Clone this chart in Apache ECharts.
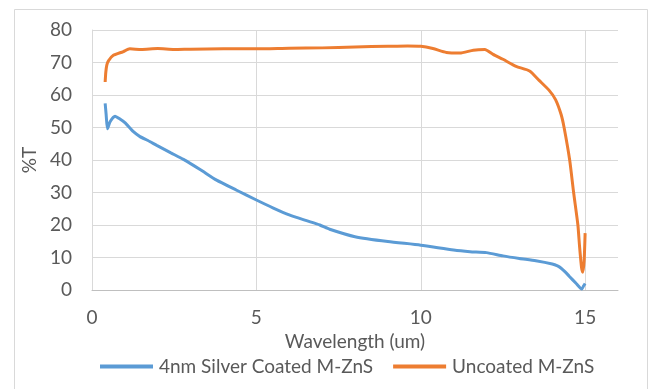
<!DOCTYPE html>
<html>
<head>
<meta charset="utf-8">
<script src="https://cdn.jsdelivr.net/npm/echarts@6/dist/echarts.min.js"></script>
<style>html,body{margin:0;padding:0;background:#fff;}#c{width:653px;height:389px;}</style>
</head>
<body>
<div id="c"></div>
<script>
var seriesNames = ['4nm Silver Coated M-ZnS', 'Uncoated M-ZnS'];
var xTicks = [0, 5, 10, 15];
var blueX = [0.40, 0.43, 0.47, 0.55, 0.70, 0.85, 1.00, 1.26, 1.46, 1.70, 1.97, 2.40, 2.78, 3.30, 3.79, 4.40, 5.00, 5.50, 6.00, 6.50, 6.93, 7.23, 8.00, 9.00, 10.00, 11.00, 11.50, 12.00, 12.50, 13.00, 13.50, 14.00, 14.16, 14.27, 14.40, 14.53, 14.73, 14.90, 14.95, 15.00];
var blueY = [57.4, 54.0, 49.6, 51.8, 53.5, 52.6, 51.5, 48.7, 47.2, 46.0, 44.5, 42.2, 40.2, 37.0, 33.8, 30.7, 27.7, 25.3, 23.1, 21.4, 20.0, 18.7, 16.4, 14.9, 13.8, 12.3, 11.8, 11.5, 10.5, 9.7, 9.0, 8.0, 7.4, 6.7, 5.5, 4.1, 2.0, 0.3, 1.2, 2.0];
var orangeX = [0.40, 0.42, 0.45, 0.50, 0.65, 0.94, 1.15, 1.50, 2.00, 2.50, 3.00, 4.00, 5.00, 6.00, 7.00, 8.00, 9.00, 9.60, 10.00, 10.37, 10.78, 11.19, 11.60, 11.95, 12.20, 12.50, 12.90, 13.31, 13.60, 13.90, 14.10, 14.27, 14.36, 14.53, 14.65, 14.78, 14.83, 14.89, 14.93, 14.97, 15.00];
var orangeY = [64.0, 67.0, 69.2, 70.5, 72.2, 73.3, 74.2, 74.0, 74.3, 74.0, 74.1, 74.2, 74.2, 74.4, 74.5, 74.8, 75.0, 75.1, 75.0, 74.3, 73.1, 72.9, 73.8, 74.0, 72.5, 71.0, 68.8, 67.4, 64.5, 61.5, 58.6, 54.0, 50.0, 40.0, 30.0, 20.0, 13.5, 7.0, 5.5, 9.0, 17.5];

function pairs(xs, ys) { return xs.map(function (x, i) { return [x, ys[i]]; }); }

var FONT = 'Lato';
var FS = 19;
var TXT = '#595959';
var chart = echarts.init(document.getElementById('c'), null, {renderer: 'canvas'});
chart.setOption({
  animation: false,
  backgroundColor: '#ffffff',
  textStyle: {fontFamily: FONT},
  graphic: [{
    type: 'rect', left: 12, top: 7, silent: true, z: -10,
    shape: {width: 633, height: 400},
    style: {fill: 'none', stroke: '#d9d9d9', lineWidth: 1}
  }],
  grid: {left: 92, right: 35, top: 30, bottom: 99, containLabel: false},
  xAxis: {
    type: 'value', min: 0, max: 16, interval: 5,
    name: 'Wavelength (um)', nameLocation: 'middle', nameGap: 34,
    nameTextStyle: {color: TXT, fontSize: FS, fontFamily: FONT},
    axisLine: {show: true, lineStyle: {color: '#bfbfbf', width: 1}},
    axisTick: {show: false},
    axisLabel: {color: TXT, fontSize: FS, fontFamily: FONT, margin: 18, showMaxLabel: false,
      formatter: function (v) { return xTicks.indexOf(v) >= 0 ? String(v) : ''; }},
    splitLine: {show: true, showMaxLine: false, lineStyle: {color: '#d9d9d9', width: 1}}
  },
  yAxis: {
    type: 'value', min: 0, max: 80, interval: 10,
    name: '%T', nameLocation: 'middle', nameGap: 51, nameRotate: 90,
    nameTextStyle: {color: TXT, fontSize: FS, fontFamily: FONT},
    axisLine: {show: true, lineStyle: {color: '#d9d9d9', width: 1}},
    axisTick: {show: false},
    axisLabel: {color: TXT, fontSize: FS, fontFamily: FONT, margin: 20},
    splitLine: {show: true, lineStyle: {color: '#d9d9d9', width: 1}}
  },
  legend: {
    left: 100, top: 357, padding: 0, icon: 'rect', itemWidth: 53, itemHeight: 4, itemGap: 20,
    textStyle: {color: TXT, fontSize: FS, fontFamily: FONT, padding: [0, 0, 0, 1]},
    data: seriesNames
  },
  series: [
    {name: seriesNames[0], type: 'line', showSymbol: false, symbol: 'none', smooth: 0.2,
     lineStyle: {color: '#5b9bd5', width: 3}, itemStyle: {color: '#5b9bd5'},
     data: pairs(blueX, blueY)},
    {name: seriesNames[1], type: 'line', showSymbol: false, symbol: 'none', smooth: 0.2,
     lineStyle: {color: '#ed7d31', width: 3}, itemStyle: {color: '#ed7d31'},
     data: pairs(orangeX, orangeY)}
  ]
});
</script>
</body>
</html>
